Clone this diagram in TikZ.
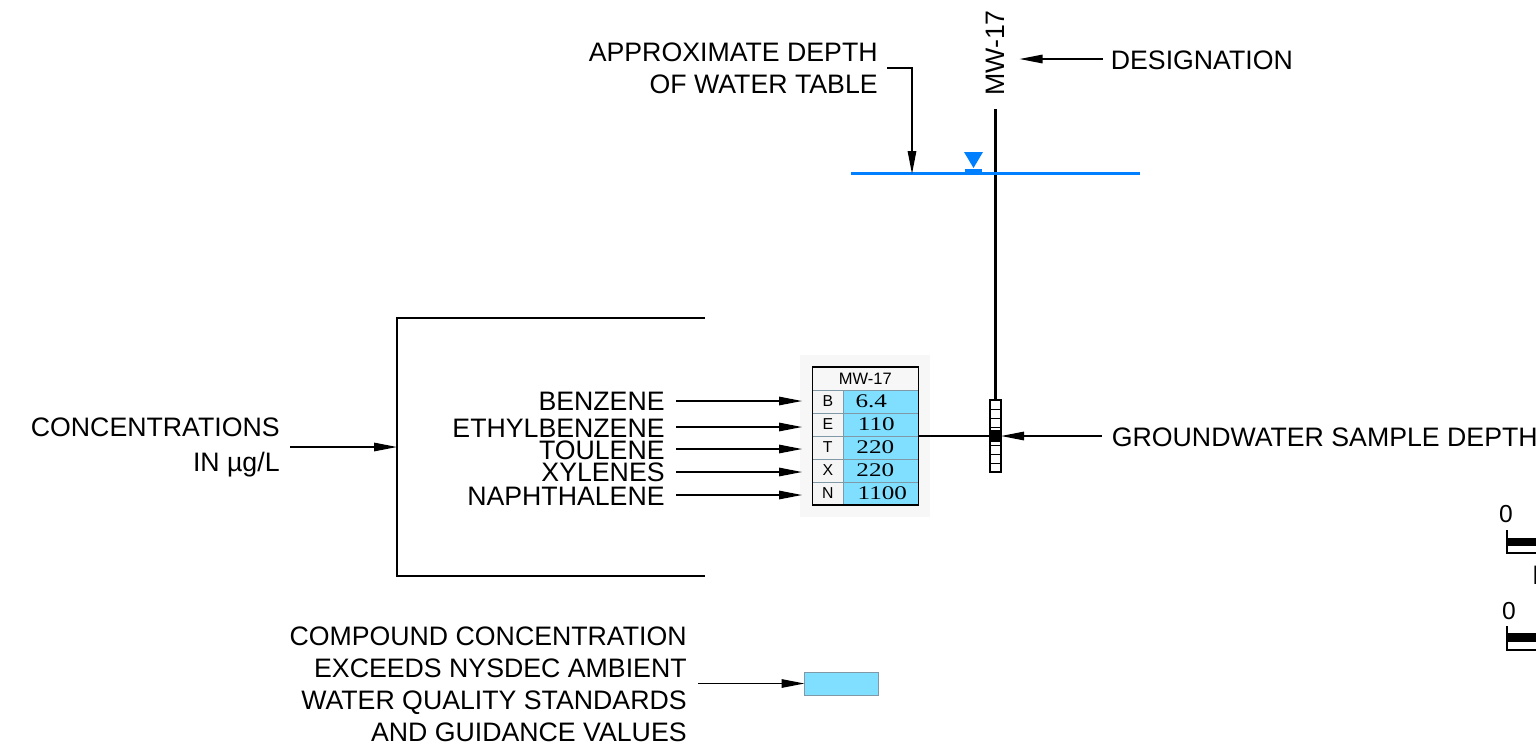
\documentclass[tikz,border=0pt]{standalone}
\usepackage{fontspec}
\setmainfont{Liberation Sans}
\newfontfamily\valuefont[FakeStretch=1.3]{Liberation Serif}
\usetikzlibrary{arrows.meta,positioning}
\definecolor{exceedblue}{HTML}{80DFFF}
\definecolor{waterblue}{HTML}{0080FF}
\definecolor{cellgray}{HTML}{7F9AA6}

\begin{document}
\begin{tikzpicture}[
    x=0.02cm, y=-0.02cm,
    label/.style={font=\fontsize{15.2}{18.3}\selectfont, inner sep=0pt, align=right},
    keycell/.style={draw=cellgray, fill=black!4, minimum width=0.62cm, minimum height=0.46cm, inner sep=0pt, outer sep=0pt, font=\fontsize{9}{10}\selectfont},
    valuecell/.style={draw=cellgray, fill=exceedblue, minimum width=1.5cm, minimum height=0.46cm, inner sep=0pt, outer sep=0pt, font=\valuefont\fontsize{11}{12}\selectfont},
    arrow/.style={-{Stealth[length=0.46cm, width=0.17cm, inset=0pt]}, line width=0.8pt},
    leader/.style={line width=0.75pt}
]
\useasboundingbox (0,0) rectangle (1536,745);
\clip (0,0) rectangle (1536,745);

% --- Well ---

% Designation
\node[label, rotate=90] (well) at (995,53) {MW-17};
\node[label, anchor=west] (designation) at (1110.5,60) {DESIGNATION};
\coordinate (welltop) at (995.5,109);

% Water Table
\node[label, anchor=east] (depth) at (878,68) {APPROXIMATE DEPTH\\OF WATER TABLE};
\coordinate (waterleft) at (851,173.5);
\coordinate (waterright) at (1140,173.5);
\coordinate (waterdepth) at (912,174);
\fill[waterblue] (964,152) -- (983,152) -- (973.5,168) -- cycle;
\draw[waterblue, line width=1.5pt] (965,170.5) -- (982,170.5);

% Sample Screen
\node[draw, line width=0.8pt, minimum width=0.22cm, minimum height=1.44cm, inner sep=0pt, outer sep=0pt] (screen) at (995.5,436) {};
\node[label, anchor=west] (sample) at (1111.5,437) {GROUNDWATER SAMPLE DEPTH};

% --- Table ---

% Backdrop
\node[fill=black!3, minimum width=2.6cm, minimum height=3.24cm, inner sep=0pt, outer sep=0pt] (backdrop) at (865,436) {};

% Header
\node[draw=cellgray, fill=black!3, minimum width=2.12cm, minimum height=0.46cm, inner sep=0pt, outer sep=0pt, font=\fontsize{9.4}{10}\selectfont] (header) at (865.3,378.5) {MW-17};

% Rows
\node[keycell, anchor=north west] (keyb) at (header.south west) {B};
\node[keycell, below=0pt of keyb] (keye) {E};
\node[keycell, below=0pt of keye] (keyt) {T};
\node[keycell, below=0pt of keyt] (keyx) {X};
\node[keycell, below=0pt of keyx] (keyn) {N};
\node[valuecell, right=0pt of keyb] (valb) {\hspace*{-0.38cm}\raisebox{-1pt}{6.4}};
\node[valuecell, right=0pt of keye] (vale) {\hspace*{-0.18cm}\raisebox{-1pt}{110}};
\node[valuecell, right=0pt of keyt] (valt) {\hspace*{-0.22cm}\raisebox{-1pt}{220}};
\node[valuecell, right=0pt of keyx] (valx) {\hspace*{-0.22cm}\raisebox{-1pt}{220}};
\node[valuecell, right=0pt of keyn] (valn) {\hspace*{0.06cm}\raisebox{-1pt}{1100}};

% Outline
\draw[line width=0.8pt] (header.north west) rectangle (valn.south east);

% --- Compounds ---
\node[label, anchor=east] (benzene) at (665,401) {BENZENE};
\node[label, anchor=east] (ethyl) at (665,428) {ETHYLBENZENE};
\node[label, anchor=east] (toulene) at (665,450.5) {TOULENE};
\node[label, anchor=east] (xylenes) at (665,472.5) {XYLENES};
\node[label, anchor=east] (naph) at (665,496.5) {NAPHTHALENE};

% Bracket
\node[label, anchor=east] (conc) at (280,447.5) {CONCENTRATIONS\\[2pt]IN µg/L};
\coordinate (brackettop) at (705,318);
\coordinate (bracketbot) at (705,576);
\coordinate (bracketmid) at (397,447);

% Legend
\node[label, anchor=east] (legend) at (687,684.5) {COMPOUND CONCENTRATION\\EXCEEDS NYSDEC AMBIENT\\WATER QUALITY STANDARDS\\AND GUIDANCE VALUES};
\node[draw=cellgray, fill=exceedblue, minimum width=1.48cm, minimum height=0.46cm, inner sep=0pt, outer sep=0pt] (swatch) at (841.5,683.5) {};

% --- Scale ---
\node[font=\fontsize{14}{14}\selectfont, inner sep=0pt] (zeroh) at (1506,514) {0};
\node[font=\fontsize{14}{14}\selectfont, inner sep=0pt] (zerov) at (1509,611) {0};
\node[label, anchor=west] (scaleh) at (1532,575) {H};
\draw[line width=0.8pt] (1507,530) -- (1507,553) -- (1540,553);
\fill (1507,538) rectangle (1540,546);
\draw[line width=0.8pt] (1507,626) -- (1507,650) -- (1540,650);
\fill (1507,633) rectangle (1540,642);

% --- Arrows ---
\draw[line width=1.3pt] (welltop) -- (screen.north);
\draw[waterblue, line width=1.5pt] (waterleft) -- (waterright);
\foreach \y in {409,418,427,445,454,463} {
    \draw[line width=0.5pt] (screen.west |- 0,\y) -- (screen.east |- 0,\y);
}
\fill (990,430) rectangle (1001,442);

\draw[arrow] ([shift={(-8,-1)}]designation.west) -- ++(-83,0);
\draw[arrow] ([xshift=9*0.02cm]depth.east) -| (waterdepth);
\draw[arrow] ([shift={(-10,-1)}]sample.west) -- (screen.east |- 0,436);
\draw[leader] (valt.east |- 0,436) -- (screen.west |- 0,436);

\draw[arrow] ([xshift=0.22cm]benzene.east) -- ([xshift=0.04cm]backdrop.west |- 0,401);
\draw[arrow] ([xshift=0.22cm]ethyl.east |- 0,427) -- ([xshift=0.04cm]backdrop.west |- 0,427);
\draw[arrow] ([xshift=0.22cm]toulene.east |- 0,449) -- ([xshift=0.04cm]backdrop.west |- 0,449);
\draw[arrow] ([xshift=0.22cm]xylenes.east |- 0,472) -- ([xshift=0.04cm]backdrop.west |- 0,472);
\draw[arrow] ([xshift=0.22cm]naph.east |- 0,495) -- ([xshift=0.04cm]backdrop.west |- 0,495);

\draw[leader] (brackettop) -- (397,318) -- (397,576) -- (bracketbot);
\draw[arrow] ([xshift=0.2cm]conc.east |- bracketmid) -- (bracketmid);
\draw[arrow] ([xshift=0.22cm]legend.east |- swatch.west) -- (swatch.west);

\end{tikzpicture}
\end{document}
